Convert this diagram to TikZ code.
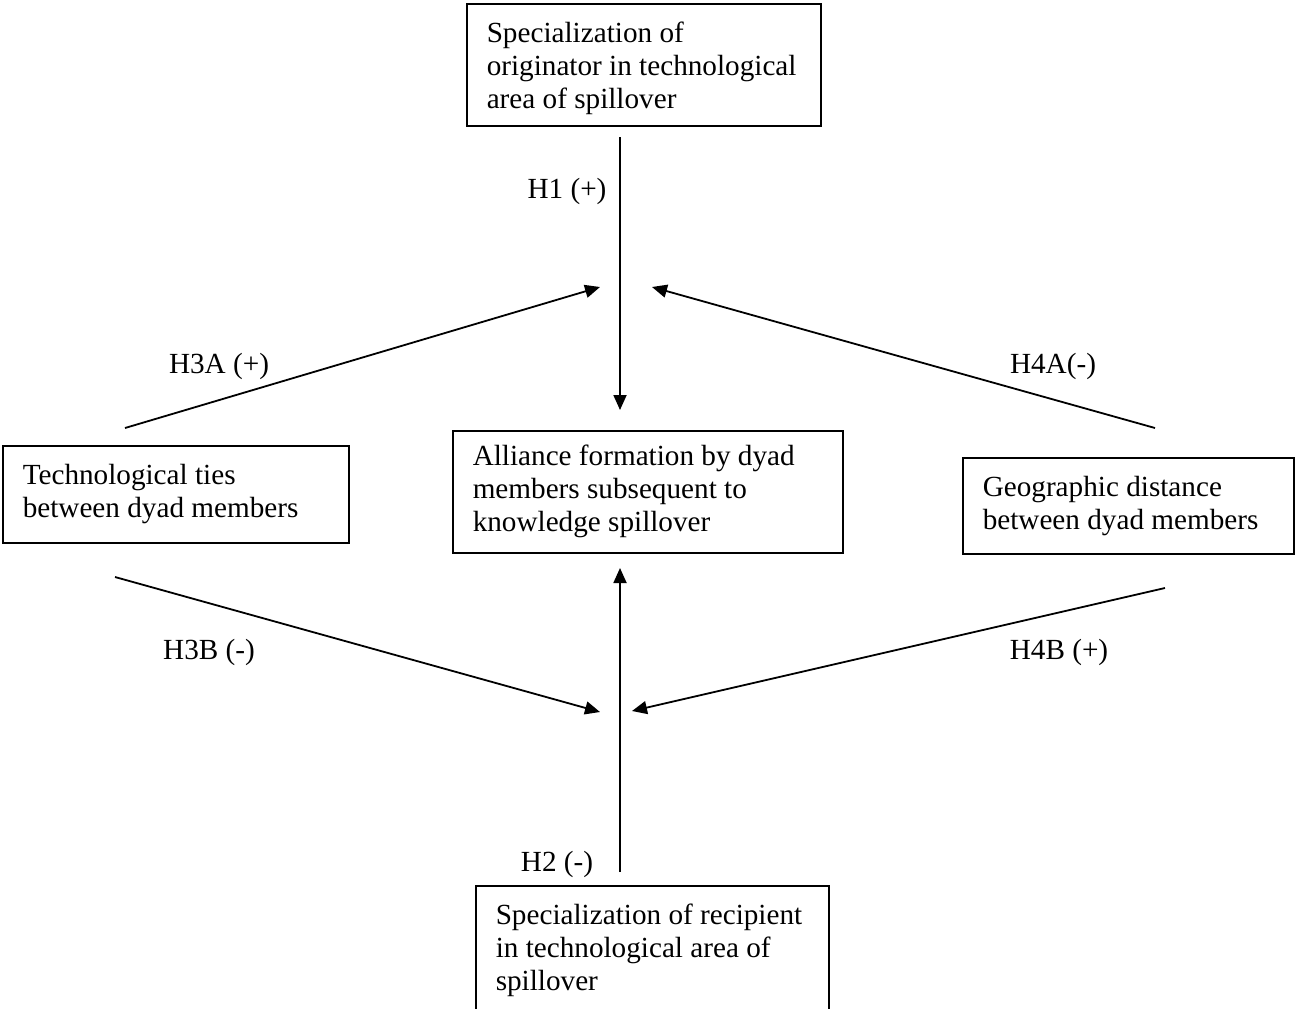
\documentclass[tikz,border=0pt]{standalone}
\usepackage{fontspec}
\setmainfont{Liberation Serif}
\usetikzlibrary{arrows.meta,positioning}
\tikzset{>={Triangle[length=7.5pt,width=6.5pt]}}
\tikzset{
    factor/.style={rectangle,draw,line width=0.75pt,align=flush left,inner xsep=10pt,inner ysep=0pt,
        anchor=north west,font=\fontsize{14.6}{16.5}\selectfont},
    hyplabel/.style={inner sep=0pt,font=\fontsize{14.6}{16.5}\selectfont},
    effect/.style={->,line width=0.9pt},
}
\begin{document}
\begin{tikzpicture}[x=0.5pt,y=-0.5pt]
        \useasboundingbox (0,0) rectangle (1295,1008);
        \clip (0,0) rectangle (1295,1008);
        % boxes
        \node[factor,text width=157pt,minimum height=61pt] (orig) at (466,3)
            {\rule{0pt}{14pt}Specialization of\\ originator in technological\\ area of spillover};
        \node[factor,text width=153pt,minimum height=48.5pt] (ties) at (2,445)
            {Technological ties\\ between dyad members};
        \node[factor,text width=175pt,minimum height=61pt] (alli) at (452,430)
            {Alliance formation by dyad\\ members subsequent to\\ knowledge spillover};
        \node[factor,text width=145.5pt,minimum height=48pt] (geo) at (962,457)
            {Geographic distance\\ between dyad members};
        \node[factor,text width=156.5pt,minimum height=70pt] (reci) at (475,885)
            {\rule{0pt}{0pt}\\[-12pt]Specialization of recipient\\ in technological area of\\ spillover\\[10pt]};

        % connector ends
        \coordinate (h1s) at (620,137);
        \coordinate (h1e) at (620,410);
        \coordinate (h2s) at (620,872);
        \coordinate (h2e) at (620,568);
        \coordinate (h3as) at (125,428);
        \coordinate (h3ae) at (600,287);
        \coordinate (h4as) at (1155,428);
        \coordinate (h4ae) at (652,287);
        \coordinate (h3bs) at (115,577);
        \coordinate (h3be) at (600,712);
        \coordinate (h4bs) at (1165,588);
        \coordinate (h4be) at (632,711);

        \draw[effect] (h1s) -- (h1e);
        \draw[effect] (h2s) -- (h2e);
        \draw[effect] (h3as) -- (h3ae);
        \draw[effect] (h4as) -- (h4ae);
        \draw[effect] (h3bs) -- (h3be);
        \draw[effect] (h4bs) -- (h4be);

        % hypothesis labels
        \node[hyplabel] (h1) at (567,191) {H1 (+)};
        \node[hyplabel] (h3a) at (219,366) {H3A (+)};
        \node[hyplabel] (h4a) at (1053,366) {H4A(-)};
        \node[hyplabel] (h3b) at (209,652) {H3B (-)};
        \node[hyplabel] (h4b) at (1059,652) {H4B (+)};
        \node[hyplabel] (h2) at (557,864) {H2 (-)};
\end{tikzpicture}
\end{document}
